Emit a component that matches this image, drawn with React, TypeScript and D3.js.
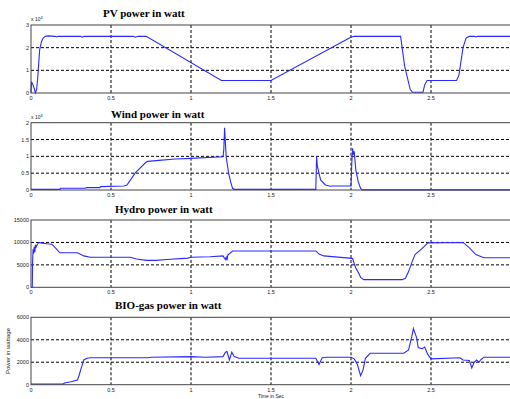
import React from "react";
import * as d3 from "d3";

// ---------------- data ----------------
const xTicks = [0, 0.5, 1, 1.5, 2, 2.5];
const xTickLabels = ["0", "0.5", "1", "1.5", "2", "2.5"];

const pvTime = [0, 0.003, 0.01, 0.02, 0.027, 0.035, 0.042, 0.054, 0.065, 0.075, 0.09, 0.106, 0.15, 0.16, 0.17, 0.31, 0.32, 0.33, 0.64, 0.65, 0.67, 0.72, 1.19, 1.5, 1.99, 2.005, 2.02, 2.31, 2.335, 2.37, 2.385, 2.45, 2.46, 2.475, 2.66, 2.675, 2.7, 2.72, 2.74, 2.77, 2.78, 2.79, 3.0];
const pvPower = [0, 5000, 4000, 2000, 0, 1500, 6600, 19000, 22500, 24100, 25000, 25200, 25000, 24700, 25000, 25000, 24600, 25000, 25000, 24600, 25000, 25000, 5500, 5500, 24300, 24700, 25000, 25000, 12000, 1500, 300, 300, 3500, 5500, 5500, 8000, 20000, 24300, 25000, 25000, 24700, 25000, 25000];
const pvTicks = [0, 10000, 20000, 30000];
const pvTickLabels = ["0", "1", "2", "3"];

const windTime = [0, 0.18, 0.185, 0.34, 0.345, 0.43, 0.435, 0.58, 0.6, 0.65, 0.72, 0.73, 0.8, 0.9, 1.0, 1.2, 1.205, 1.21, 1.215, 1.22, 1.235, 1.25, 1.26, 1.27, 1.78, 1.785, 1.79, 1.81, 1.84, 1.87, 1.88, 2.0, 2.005, 2.01, 2.015, 2.02, 2.03, 2.045, 2.06, 2.07, 3.0];
const windPower = [200, 200, 500, 500, 700, 700, 1000, 1200, 1500, 5000, 8300, 8500, 8800, 9200, 9400, 9900, 12000, 18500, 14000, 9800, 5000, 2000, 500, 200, 200, 10000, 7000, 3000, 1500, 1100, 1200, 1200, 8000, 12400, 10500, 11500, 6000, 2500, 500, 50, 50];
const windTicks = [0, 5000, 10000, 15000, 20000];
const windTickLabels = ["0", "0.5", "1", "1.5", "2"];

const hydroTime = [0, 0.008, 0.01, 0.013, 0.016, 0.02, 0.024, 0.028, 0.032, 0.04, 0.05, 0.06, 0.1, 0.13, 0.16, 0.18, 0.29, 0.33, 0.37, 0.62, 0.66, 0.72, 0.78, 0.85, 0.98, 1.0, 1.12, 1.2, 1.215, 1.22, 1.225, 1.23, 1.26, 1.78, 1.8, 1.83, 1.99, 2.01, 2.02, 2.03, 2.05, 2.06, 2.08, 2.32, 2.34, 2.36, 2.38, 2.4, 2.44, 2.46, 2.48, 2.7, 2.74, 2.78, 2.83, 3.0];
const hydroPower = [0, 0, 5700, 8500, 7500, 9000, 7800, 9500, 9000, 9600, 10000, 9900, 9700, 9600, 8500, 7700, 7700, 7000, 6700, 6700, 6300, 6000, 6000, 6200, 6500, 6700, 6800, 7000, 6200, 6700, 6000, 7200, 8100, 8100, 7400, 7000, 6500, 6400, 5300, 4300, 3000, 2200, 1700, 1700, 2000, 3500, 5500, 7300, 8500, 9200, 9900, 10000, 8800, 7300, 6600, 6600];
const hydroTicks = [0, 5000, 10000, 15000];
const hydroTickLabels = ["0", "5000", "10000", "15000"];

const bioTime = [0, 0.2, 0.21, 0.25, 0.29, 0.3, 0.31, 0.33, 0.35, 0.37, 0.73, 0.75, 1.0, 1.09, 1.2, 1.215, 1.225, 1.24, 1.255, 1.27, 1.3, 1.78, 1.8, 1.82, 1.85, 2.0, 2.02, 2.04, 2.06, 2.075, 2.09, 2.12, 2.33, 2.36, 2.38, 2.39, 2.41, 2.42, 2.445, 2.46, 2.48, 2.5, 2.68, 2.7, 2.74, 2.755, 2.77, 2.785, 2.8, 2.81, 2.83, 3.0];
const bioPower = [60, 60, 150, 270, 420, 800, 1300, 2200, 2350, 2400, 2400, 2450, 2500, 2450, 2500, 2900, 2950, 2200, 2900, 2500, 2350, 2350, 1800, 2400, 2450, 2450, 2300, 1800, 800, 1300, 2350, 2800, 2800, 3100, 4300, 5000, 4200, 3300, 3200, 3350, 2700, 2300, 2400, 2200, 2150, 1500, 2000, 2200, 2000, 2200, 2450, 2450];
const bioTicks = [0, 2000, 4000, 6000];
const bioTickLabels = ["0", "2000", "4000", "6000"];

const titles = ["PV power in watt", "Wind power in watt", "Hydro power in watt", "BIO-gas power in watt"];

// ---------------- layout ----------------
const W = 510;
const H = 399;
const LEFT = 31;
const RIGHT = 511;

const panels = [
  { title: titles[0], time: pvTime, vals: pvPower, ticks: pvTicks, labels: pvTickLabels, max: 30000, top: 25, bottom: 93, titleX: 103, titleY: 17, exp: true },
  { title: titles[1], time: windTime, vals: windPower, ticks: windTicks, labels: windTickLabels, max: 20000, top: 122.7, bottom: 190, titleX: 111, titleY: 118, exp: true },
  { title: titles[2], time: hydroTime, vals: hydroPower, ticks: hydroTicks, labels: hydroTickLabels, max: 15000, top: 220, bottom: 287.3, titleX: 115, titleY: 213, exp: false },
  { title: titles[3], time: bioTime, vals: bioPower, ticks: bioTicks, labels: bioTickLabels, max: 6000, top: 317.3, bottom: 384.7, titleX: 115, titleY: 309, exp: false },
];

const x = d3.scaleLinear().domain([0, 3]).range([LEFT, RIGHT]);

function Panel({ p }: { p: (typeof panels)[number] }) {
  const y = d3.scaleLinear().domain([0, p.max]).range([p.bottom, p.top]);
  const pts: [number, number][] = p.time.map((t, i) => [t, p.vals[i]]);
  const line = d3
    .line<[number, number]>()
    .x((d) => x(d[0]))
    .y((d) => y(d[1]));
  return (
    <g>
      <text x={p.titleX} y={p.titleY} fontFamily="Liberation Serif" fontWeight="bold" fontSize={11} fill="#000">
        {p.title}
      </text>
      {p.exp && (
        <text x={LEFT} y={p.top - 4} fontFamily="Liberation Sans" fontSize={5} fill="#222">
          x 10
          <tspan dy={-2} fontSize={4}>4</tspan>
        </text>
      )}
      {xTicks.slice(1).map((t) => (
        <line key={"gx" + t} x1={x(t)} x2={x(t)} y1={p.top} y2={p.bottom} stroke="#000" strokeDasharray="3,2" strokeWidth={1} />
      ))}
      {p.ticks.slice(1, -1).map((v) => (
        <line key={"gy" + v} x1={LEFT} x2={RIGHT} y1={y(v)} y2={y(v)} stroke="#000" strokeDasharray="3,2" strokeWidth={1} />
      ))}
      <path d={line(pts) || ""} fill="none" stroke="#2a2aff" strokeWidth={1.1} />
      <rect x={LEFT} y={p.top} width={RIGHT - LEFT} height={p.bottom - p.top} fill="none" stroke="#444" strokeWidth={1} />
      {p.ticks.map((v, i) => (
        <text key={"ty" + v} x={29} y={y(v) + 2} textAnchor="end" fontFamily="Liberation Sans" fontSize={5.5} fill="#222">
          {p.labels[i]}
        </text>
      ))}
      {xTicks.map((t, i) => (
        <text key={"tx" + t} x={x(t)} y={p.bottom + 7} textAnchor="middle" fontFamily="Liberation Sans" fontSize={5.5} fill="#222">
          {xTickLabels[i]}
        </text>
      ))}
    </g>
  );
}

export default function App() {
  return (
    <div style={{ position: "absolute", left: 0, top: 0, width: W, height: H, background: "#fff" }}>
      <svg width={W} height={H} viewBox={`0 0 ${W} ${H}`} style={{ display: "block" }}>
        <rect x={0} y={0} width={W} height={H} fill="#fff" />
        {panels.map((p) => (
          <Panel key={p.title} p={p} />
        ))}
        <text transform="translate(10,351) rotate(-90)" textAnchor="middle" fontFamily="Liberation Sans" fontSize={6} fill="#222">
          Power in wattage
        </text>
        <text x={271} y={397.5} textAnchor="middle" fontFamily="Liberation Sans" fontSize={5} fill="#222">
          Time in Sec
        </text>
      </svg>
    </div>
  );
}
